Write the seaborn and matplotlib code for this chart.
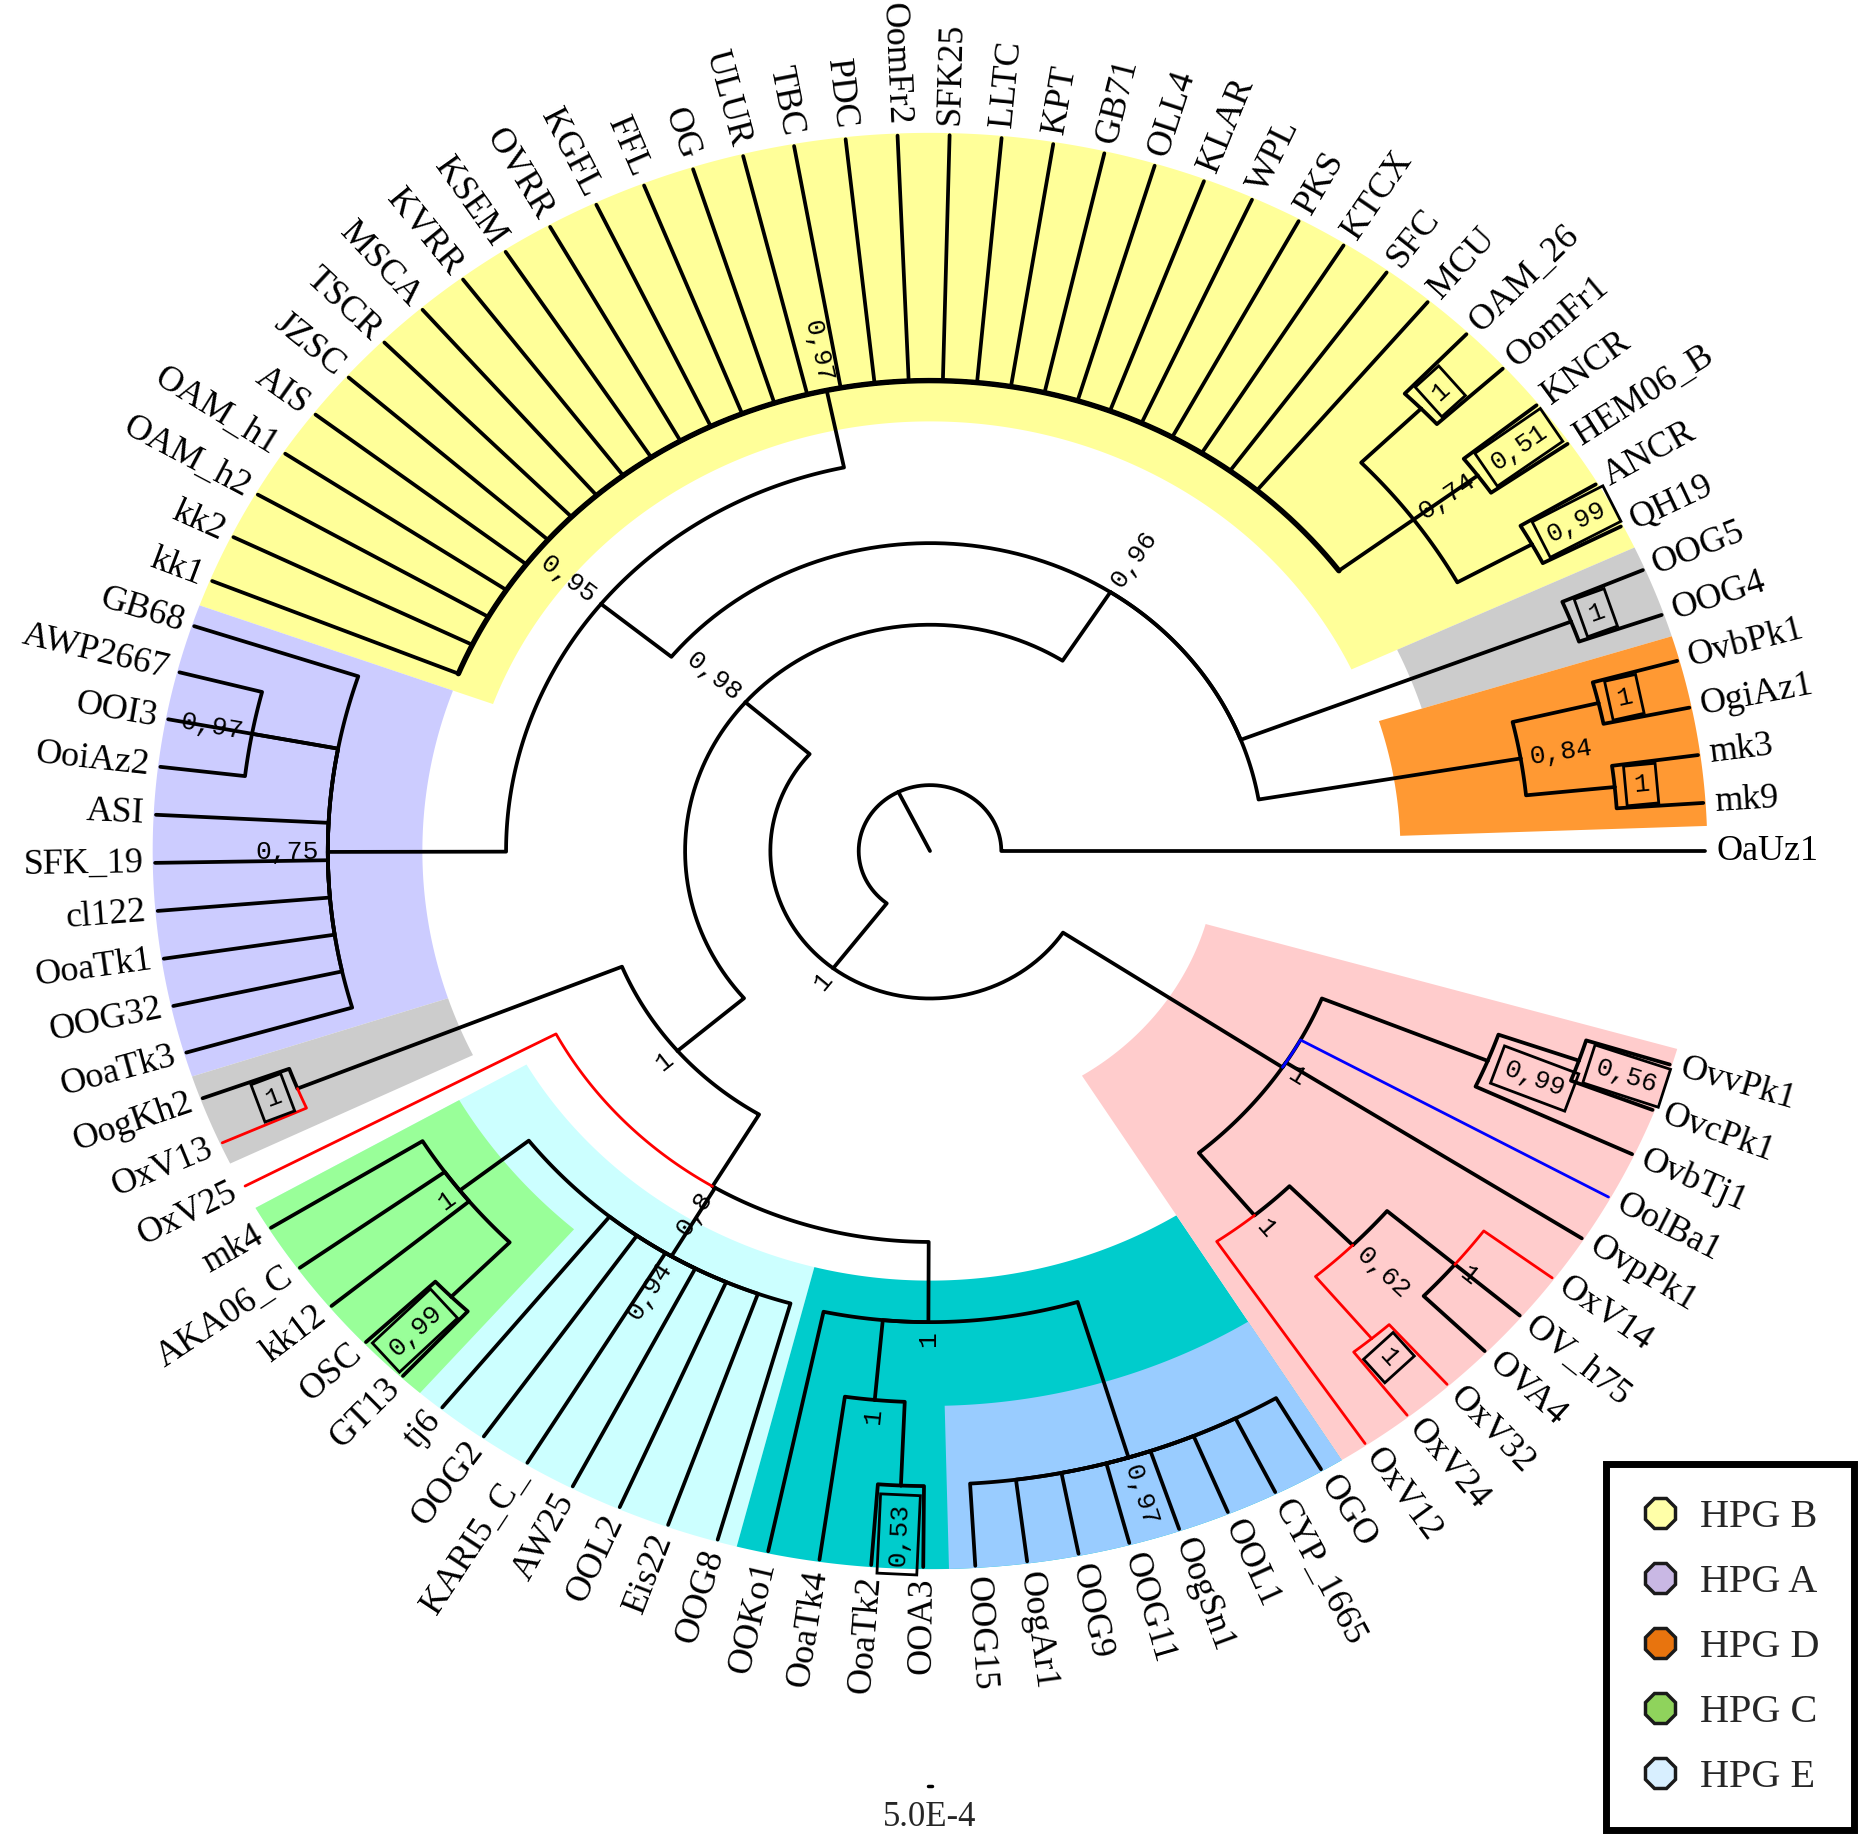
import numpy as np
import pandas as pd
import matplotlib
matplotlib.use("Agg")
import matplotlib.pyplot as plt
from matplotlib.lines import Line2D
import seaborn as sns

# ---------------- data ----------------
# leaves in counter-clockwise order starting at 3 o'clock
LEAVES = ['OaUz1', 'mk9', 'mk3', 'OgiAz1', 'OvbPk1', 'OOG4', 'OOG5', 'QH19', 'ANCR', 'HEM06_B',
          'KNCR', 'OomFr1', 'OAM_26', 'MCU', 'SFC', 'KTCX', 'PKS', 'WPL', 'KLAR', 'OLL4', 'GB71', 'KPT',
          'LLTC', 'SFK25', 'OomFr2', 'PDC', 'TBC', 'ULUR', 'OG', 'FFL', 'KGFL', 'OVRR', 'KSEM', 'KVRR',
          'MSCA', 'TSCR', 'JZSC', 'AIS', 'OAM_h1', 'OAM_h2', 'kk2', 'kk1', 'GB68', 'AWP2667', 'OOI3',
          'OoiAz2', 'ASI', 'SFK_19', 'cl122', 'OoaTk1', 'OOG32', 'OoaTk3', 'OogKh2', 'OxV13', 'OxV25',
          'mk4', 'AKA06_C', 'kk12', 'OSC', 'GT13', 'tj6', 'OOG2', 'KARI5_C_', 'AW25', 'OOL2', 'Eis22',
          'OOG8', 'OOKo1', 'OoaTk4', 'OoaTk2', 'OOA3', 'OOG15', 'OogAr1', 'OOG9', 'OOG11', 'OogSn1',
          'OOL1', 'CYP_1665', 'OGO', 'OxV12', 'OxV24', 'OxV32', 'OVA4', 'OV_h75', 'OxV14', 'OvpPk1',
          'OolBa1', 'OvbTj1', 'OvcPk1', 'OvvPk1']
ANGLE_STEP = 3.85  # degrees between neighbouring leaves

YELLOW_COMB = ['MCU', 'SFC', 'KTCX', 'PKS', 'WPL', 'KLAR', 'OLL4', 'GB71', 'KPT', 'LLTC', 'SFK25',
               'OomFr2', 'PDC', 'TBC', 'ULUR', 'OG', 'FFL', 'KGFL', 'OVRR', 'KSEM', 'KVRR', 'MSCA',
               'TSCR', 'JZSC', 'AIS', 'OAM_h1', 'OAM_h2', 'kk2', 'kk1']
BLUE_COMB = ['OOG15', 'OogAr1', 'OOG9', 'OOG11', 'OogSn1', 'OOL1', 'CYP_1665', 'OGO']

# internal nodes: name, support value, depth (fraction of tip radius), children
NODE_NAMES = ['root', 'N1', 'A', 'B', 'Y95', 'YEL', 'N074', 'P1', 'P051', 'P099', 'PUR', 'PP097',
              'G2', 'OR', 'PO1', 'PO2', 'C', 'GP', 'D', 'E', 'G', 'G099', 'F', 'T1', 'T053', 'BLU',
              'P', 'L', 'L1', 'RP', 'X', 'U', 'P056']
NODE_SUPPORT = ['', '1', '0,98', '0,96', '0,95', '0,97', '0,74', '1', '0,51', '0,99', '0,75', '0,97',
                '1', '0,84', '1', '1', '1', '1', '0,8', '0,94', '1', '0,99', '1', '1', '0,53', '0,97',
                '1', '1', '0,62', '1', '1', '0,99', '0,56']
NODE_DEPTH = [0.092, 0.206, 0.316, 0.430, 0.547, 0.657, 0.777, 0.885, 0.880, 0.887, 0.777, 0.890,
              0.887, 0.773, 0.887, 0.888, 0.429, 0.881, 0.546, 0.657, 0.770, 0.877, 0.658, 0.770,
              0.887, 0.885, 0.546, 0.659, 0.775, 0.888, 0.890, 0.777, 0.887]
NODE_CHILDREN = [
    ['OaUz1', 'N1'],
    ['A', 'P'],
    ['B', 'C'],
    ['Y95', 'G2', 'OR'],
    ['YEL', 'PUR'],
    ['N074'] + YELLOW_COMB,
    ['P099', 'P051', 'P1'],
    ['OomFr1', 'OAM_26'],
    ['HEM06_B', 'KNCR'],
    ['QH19', 'ANCR'],
    ['GB68', 'PP097', 'OOI3', 'ASI', 'SFK_19', 'cl122', 'OoaTk1', 'OOG32', 'OoaTk3'],
    ['AWP2667', 'OoiAz2'],
    ['OOG4', 'OOG5'],
    ['PO2', 'PO1'],
    ['OgiAz1', 'OvbPk1'],
    ['mk9', 'mk3'],
    ['GP', 'D'],
    ['OogKh2', 'OxV13'],
    ['OxV25', 'E', 'F'],
    ['G', 'tj6', 'OOG2', 'KARI5_C_', 'AW25', 'OOL2', 'Eis22', 'OOG8'],
    ['mk4', 'AKA06_C', 'kk12', 'G099'],
    ['OSC', 'GT13'],
    ['OOKo1', 'T1', 'BLU'],
    ['OoaTk4', 'T053'],
    ['OoaTk2', 'OOA3'],
    BLUE_COMB,
    ['L', 'OvpPk1', 'OolBa1', 'U'],
    ['OxV12', 'L1'],
    ['RP', 'X'],
    ['OxV24', 'OxV32'],
    ['OVA4', 'OV_h75', 'OxV14'],
    ['OvbTj1', 'P056'],
    ['OvcPk1', 'OvvPk1'],
]
BOXED = ['P1', 'P051', 'P099', 'G2', 'PO1', 'PO2', 'GP', 'G099', 'T053', 'P056', 'U', 'RP']
RED_LEAVES = ['OxV13', 'OxV25', 'OxV12', 'OxV24', 'OxV32', 'OxV14']
BLUE_LEAVES = ['OolBa1']

# coloured backgrounds: colour, start angle, end angle, inner radius
BAND_COLORS = ['#FFFF99', '#CCCCFF', '#CCCCCC', '#CCCCCC', '#FF9933', '#CCFFFF', '#99FF99',
               '#00CCCC', '#99CCFF', '#FFCCCC']
BAND_START = [25.0, 160.0, 198.3, 17.4, 2.0, 209.8, 209.8, 255.6, 271.4, 302.0]
BAND_END = [160.0, 198.3, 205.8, 25.0, 17.4, 255.6, 229.0, 302.0, 302.0, 344.0]
BAND_INNER = [0.600, 0.655, 0.655, 0.665, 0.607, 0.600, 0.700, 0.600, 0.775, 0.370]

LEGEND_LABELS = ['HPG B', 'HPG A', 'HPG D', 'HPG C', 'HPG E']
LEGEND_COLORS = ['#FFFFA8', '#C9B8E4', '#E8740E', '#8FD35C', '#D8EFFF']
SCALE_LABEL = '5.0E-4'

# ---------------- layout ----------------
sns.set_theme(style='white')
plt.rcParams['font.family'] = ['Liberation Serif', 'DejaVu Serif']

W, H = 1866, 1845
CX, CY, RX, RY = 930.0, 851.0, 775.0, 716.0

children = dict(zip(NODE_NAMES, NODE_CHILDREN))
depth = dict(zip(NODE_NAMES, NODE_DEPTH))
support = dict(zip(NODE_NAMES, NODE_SUPPORT))
leaf_ang = {n: i * ANGLE_STEP for i, n in enumerate(LEAVES)}

_acache = {}


def ang(n):
    if n in leaf_ang:
        return leaf_ang[n]
    if n not in _acache:
        _acache[n] = float(np.mean([ang(c) for c in children[n]]))
    return _acache[n]


def rad(n):
    return 1.0 if n in leaf_ang else depth[n]


def leaves_under(n):
    if n in leaf_ang:
        return [n]
    out = []
    for c in children[n]:
        out += leaves_under(c)
    return out


def col(n):
    lv = leaves_under(n)
    if all(l in RED_LEAVES for l in lv):
        return '#FF0000'
    if all(l in BLUE_LEAVES for l in lv):
        return '#0000FF'
    return '#000000'


def polar(r, t):
    a = np.radians(t)
    return r * np.cos(a), r * np.sin(a)


def vis_angle(t):
    a = np.radians(t)
    return np.degrees(np.arctan2(RY * np.sin(a), RX * np.cos(a)))


rows = []
seg_id = [0]


def add_poly(pts, color, lw):
    for (x, y) in pts:
        rows.append((seg_id[0], x, y, color, lw))
    seg_id[0] += 1


for p in NODE_NAMES:
    tp, rp = ang(p), depth[p]
    for c in children[p]:
        tc, rc = ang(c), rad(c)
        npts = max(2, int(abs(tc - tp) / 0.4) + 2)
        ts = np.linspace(tp, tc, npts)
        pts = [polar(rp, t) for t in ts] + [polar(rc, tc)]
        color = col(c)
        add_poly(pts, color, 2.7 if color == '#000000' else 2.0)

# root stem
add_poly([polar(0.0, ang('root')), polar(depth['root'], ang('root'))], '#000000', 2.7)
# heavy arc of the large yellow comb
ys_angles = [ang(c) for c in children['YEL']]
ts = np.linspace(min(ys_angles), max(ys_angles), 300)
add_poly([polar(depth['YEL'], t) for t in ts], '#000000', 3.9)

df = pd.DataFrame(rows, columns=['seg', 'x', 'y', 'color', 'lw'])

fig = plt.figure(figsize=(W / 100, H / 100), dpi=100)
ax = fig.add_axes([0, 0, 1, 1])

# backgrounds
for color, t1, t2, rin in zip(BAND_COLORS, BAND_START, BAND_END, BAND_INNER):
    ts = np.linspace(t1, t2, 300)
    xo, yo = polar(1.003, ts)
    xi, yi = polar(rin, ts[::-1])
    ax.fill(np.concatenate([xo, xi]), np.concatenate([yo, yi]), color=color, lw=0, zorder=0)

# branches
order = ['#000000', '#FF0000', '#0000FF']
for c in order:
    for lw, grp in df[df['color'] == c].groupby('lw'):
        sns.lineplot(data=grp, x='x', y='y', units='seg', estimator=None, sort=False,
                     color=c, lw=lw, ax=ax, legend=False, zorder=3)

# leaf labels
for n in LEAVES:
    t = leaf_ang[n]
    x, y = polar(1.015, t)
    phi = vis_angle(t)
    if np.cos(np.radians(t)) < 0:
        rot, ha = phi - 180, 'right'
    else:
        rot, ha = phi, 'left'
    ax.text(x, y, n, rotation=rot, rotation_mode='anchor', ha=ha, va='center',
            fontsize=26, color='black', zorder=5)

# support values
for n in NODE_NAMES:
    s = support[n]
    if not s:
        continue
    t = ang(n)
    boxed = n in BOXED
    x, y = polar(depth[n] + (0.024 if boxed else 0.012), t)
    phi = vis_angle(t)
    if np.cos(np.radians(t)) < 0:
        rot, ha = phi - 180, 'right'
    else:
        rot, ha = phi, 'left'
    bbox = dict(boxstyle='square,pad=0.3', fc='none', ec='black', lw=2.0) if boxed else None
    ax.text(x, y, s, rotation=rot, rotation_mode='anchor', ha=ha, va='center',
            fontsize=19, family=['Liberation Mono', 'DejaVu Sans Mono'], color='black',
            bbox=bbox, zorder=6)

# scale
ax.plot([-0.002, 0.002], [(CY - 1786) / RY] * 2, color='black', lw=2.5)
ax.text(0.0, (CY - 1818) / RY, SCALE_LABEL, ha='center', va='center', fontsize=25)

ax.set_xlim(-CX / RX, (W - CX) / RX)
ax.set_ylim((CY - H) / RY, CY / RY)
ax.axis('off')

# legend
handles = [Line2D([], [], ls='none', marker='8', ms=24, mfc=c, mec='#1a1a1a', mew=2.5)
           for c in LEGEND_COLORS]
leg = fig.legend(handles, LEGEND_LABELS, loc='lower right', bbox_to_anchor=(1854 / W, 15 / H),
                 frameon=True, fancybox=False, fontsize=29, borderpad=0.85, labelspacing=0.69,
                 handlelength=1.0, handletextpad=0.5, borderaxespad=0)
fr = leg.get_frame()
fr.set_edgecolor('black')
fr.set_linewidth(5)
fr.set_alpha(1)

fig.savefig('out.png', dpi=100)
